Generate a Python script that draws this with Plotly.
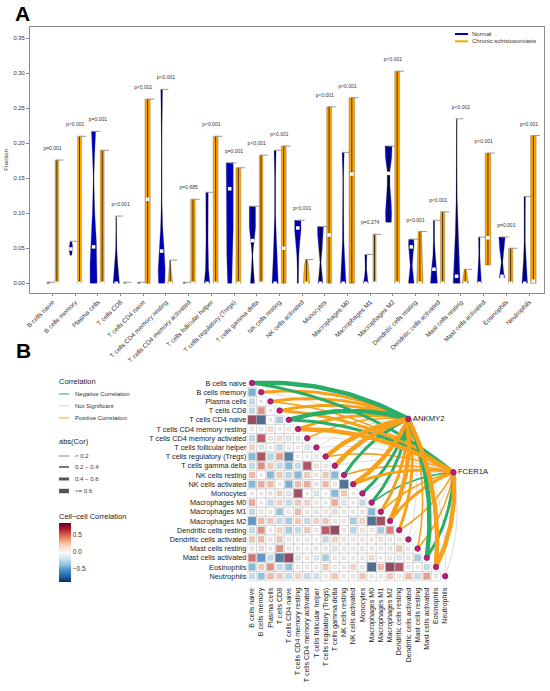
import numpy as np
import plotly.graph_objects as go

W, H = 550, 691
FONT = "Liberation Sans, Arial, sans-serif"


def px(x):
    return x / W


def py(y):
    return 1 - y / H


cells = ["B cells naive", "B cells memory", "Plasma cells", "T cells CD8", "T cells CD4 naive",
         "T cells CD4 memory resting", "T cells CD4 memory activated", "T cells follicular helper",
         "T cells regulatory (Tregs)", "T cells gamma delta", "NK cells resting", "NK cells activated",
         "Monocytes", "Macrophages M0", "Macrophages M1", "Macrophages M2", "Dendritic cells resting",
         "Dendritic cells activated", "Mast cells resting", "Mast cells activated", "Eosinophils",
         "Neutrophils"]

p_text = ["p=0.001", "p<0.001", "p=0.001", "p<0.001", "p<0.001", "p<0.001", "p=0.685", "p<0.001",
          "p=0.001", "p<0.001", "p<0.001", "p<0.001", "p<0.001", "p<0.001", "p=0.274", "p<0.001",
          "p<0.001", "p<0.001", "p<0.001", "p<0.001", "p=0.001", "p<0.001"]

# violin outlines: levels (fraction) and relative half widths
normal_y = [
    [0, 0.0015],
    [0.04, 0.045, 0.05, 0.055, 0.06],
    [0, 0.03, 0.06, 0.1, 0.15, 0.19, 0.217],
    [0, 0.01, 0.03, 0.05, 0.08, 0.096],
    [0, 0.0015],
    [0, 0.02, 0.05, 0.08, 0.12, 0.2, 0.277],
    [0, 0.0015],
    [0, 0.02, 0.06, 0.1, 0.13],
    [0, 0.04, 0.08, 0.12, 0.15, 0.172],
    [0, 0.02, 0.04, 0.06, 0.08, 0.11],
    [0, 0.03, 0.06, 0.1, 0.15, 0.19],
    [0, 0.02, 0.04, 0.06, 0.075, 0.09],
    [0, 0.015, 0.03, 0.05, 0.07, 0.081],
    [0, 0.03, 0.06, 0.1, 0.15, 0.187],
    [0, 0.01, 0.02, 0.03, 0.041],
    [0.087, 0.1, 0.12, 0.14, 0.16, 0.18, 0.196],
    [0, 0.01, 0.025, 0.04, 0.055, 0.063],
    [0, 0.02, 0.04, 0.06, 0.09],
    [0, 0.03, 0.07, 0.12, 0.18, 0.235],
    [0, 0.02, 0.04, 0.066],
    [0.008, 0.015, 0.03, 0.05, 0.066],
    [0, 0.03, 0.06, 0.1, 0.124],
]
normal_w = [
    [0.35, 0.35],
    [0.2, 0.45, 0.55, 0.45, 0.2],
    [1.0, 1.0, 0.8, 0.35, 0.06, 0.35, 0.6],
    [0.9, 0.8, 0.4, 0.15, 0.06, 0.03],
    [0.35, 0.35],
    [0.9, 1.0, 0.7, 0.3, 0.06, 0.04, 0.25],
    [0.35, 0.35],
    [0.8, 0.45, 0.3, 0.3, 0.35],
    [0.6, 0.85, 1.0, 1.0, 1.0, 1.0],
    [0.6, 0.3, 0.08, 0.5, 0.9, 0.9],
    [0.9, 0.6, 0.3, 0.1, 0.1, 0.3],
    [0.15, 0.15, 0.3, 0.6, 0.9, 0.9],
    [0.7, 0.4, 0.15, 0.5, 0.85, 0.85],
    [0.8, 0.5, 0.2, 0.1, 0.06, 0.3],
    [0.7, 0.4, 0.2, 0.2, 0.3],
    [0.8, 0.9, 0.7, 0.4, 0.4, 0.9, 1.0],
    [0.8, 0.6, 0.3, 0.5, 0.8, 0.7],
    [1.0, 0.7, 0.3, 0.15, 0.15],
    [1.0, 0.8, 0.4, 0.15, 0.06, 0.06],
    [0.6, 0.3, 0.15, 0.2],
    [0.8, 0.5, 0.2, 0.7, 0.9],
    [0.8, 0.4, 0.15, 0.15, 0.2],
]
normal_med = [None, 0.049, 0.052, 0.0, None, 0.046, None, 0.0, 0.135, 0.061, 0.0, 0.079,
              0.0, 0.0, 0.0, 0.157, 0.052, 0.02, 0.01, 0.0, 0.01, 0.0]

chronic_y = [
    [0, 0.176], [0, 0.21], [0, 0.19], [0, 0.0015], [0, 0.263],
    [0, 0.01, 0.02, 0.033], [0, 0.12], [0, 0.21], [0, 0.165], [0, 0.183],
    [0, 0.196], [0, 0.015, 0.025, 0.034], [0, 0.252], [0, 0.265], [0, 0.07],
    [0, 0.303], [0, 0.03, 0.06, 0.074], [0, 0.102], [0, 0.01, 0.02],
    [0.026, 0.186], [0, 0.05], [0, 0.211],
]
chronic_w = [
    [0.5, 0.5], [0.55, 0.55], [0.55, 0.55], [0.35, 0.35], [0.75, 0.75],
    [0.7, 0.5, 0.35, 0.1], [0.65, 0.65], [0.7, 0.7], [0.7, 0.7], [0.5, 0.5],
    [0.7, 0.7], [0.9, 0.8, 0.6, 0.3], [0.7, 0.7], [0.8, 0.8], [0.45, 0.45],
    [0.7, 0.7], [0.9, 0.8, 0.6, 0.5], [0.6, 0.6], [0.9, 0.7, 0.3],
    [0.8, 0.8], [0.6, 0.6], [0.8, 0.8],
]
chronic_med = [0.0, 0.0, 0.0, None, 0.12, 0.0, 0.0, 0.0, 0.0, 0.0, 0.05, 0.0, 0.069, 0.156,
               0.0, 0.0, 0.0, 0.0, 0.0, 0.065, 0.0, 0.003]

# lower triangle of the cell-cell correlation matrix (row i has i values)
corr_rows = [
    [],
    [-0.55],
    [-0.3, 0.05],
    [-0.3, 0.5, 0.05],
    [0.85, -0.9, 0.05, -0.4],
    [0.1, -0.1, 0.2, 0.05, 0.1],
    [-0.3, 0.7, 0.15, 0.2, -0.2, -0.15],
    [0.25, -0.2, 0.05, -0.3, -0.1, 0.05, -0.2],
    [-0.5, 0.75, -0.35, 0.45, -0.8, -0.05, 0.05, -0.1],
    [-0.3, 0.5, 0.3, -0.3, -0.5, -0.3, 0.75, 0.15, -0.1],
    [0.35, 0.05, -0.5, 0.3, -0.35, -0.5, 0.3, 0.1, 0.3, -0.5],
    [-0.5, 0.4, 0.35, 0.05, -0.55, 0.35, 0.4, 0.1, 0.35, -0.1, -0.85],
    [0.05, 0.05, 0.1, 0.25, -0.2, 0.8, 0.05, -0.2, -0.02, -0.5, 0.3, 0.05],
    [0.4, 0.05, -0.3, 0.25, -0.3, 0.3, 0.25, 0.1, 0.05, 0.4, -0.2, 0.05, -0.3],
    [-0.3, 0.1, 0.08, -0.45, 0.1, 0.35, 0.1, -0.15, 0.1, 0.2, 0.1, 0.08, 0.1, -0.5],
    [-0.7, 0.35, 0.3, -0.3, -0.4, 0.3, -0.3, 0.25, 0.3, 0.1, 0.1, -0.4, 0.25, -0.85, 0.8],
    [-0.3, 0.5, 0.05, 0.25, -0.4, -0.3, 0.3, 0.1, 0.7, 0.85, 0.1, -0.35, 0.15, 0.1, -0.4, 0.55],
    [0.3, 0.35, 0.1, 0.3, 0.1, 0.1, 0.08, 0.05, -0.3, 0.25, 0.1, 0.1, 0.1, 0.08, 0.15, 0.1, 0.1],
    [0.1, 0.2, 0.08, 0.5, 0.1, 0.1, 0.05, 0.1, 0.1, -0.2, 0.1, 0.1, 0.12, 0.1, 0.08, 0.1, 0.3, 0.1],
    [0.6, -0.7, -0.3, -0.8, 0.9, -0.2, 0.1, -0.2, -0.4, 0.1, 0.1, 0.08, 0.1, 0.2, 0.05, 0.1,
     -0.2, 0.1, -0.4],
    [-0.5, 0.3, 0.5, -0.3, -0.45, 0.1, 0.1, 0.08, 0.3, 0.1, 0.1, 0.25, 0.1, -0.9, 0.35, 0.85,
     0.75, 0.1, 0.05, -0.3],
    [-0.3, -0.45, 0.35, 0.3, -0.3, 0.25, -0.3, -0.25, 0.1, 0.3, 0.1, 0.1, 0.3, 0.1, 0.1, 0.3,
     0.1, 0.35, -0.3, 0.45, 0.1],
]

genes = ["ANKMY2", "FCER1A"]
gene_x = [17.0, 21.9]
gene_y = [3.9, 9.7]
edge_type = {
    "ANKMY2": ["neg", "pos", "pos", "pos", "neg", "pos", "pos", "ns", "pos", "pos", "neg",
               "pos", "neg", "neg", "pos", "pos", "pos", "ns", "pos", "neg", "pos", "ns"],
    "FCER1A": ["neg", "ns", "pos", "pos", "neg", "pos", "ns", "ns", "pos", "ns", "pos",
               "pos", "ns", "neg", "pos", "pos", "pos", "ns", "pos", "neg", "pos", "ns"],
}
edge_bin = {
    "ANKMY2": [3, 2, 2, 2, 3, 2, 1, 0, 3, 3, 2, 3, 2, 2, 2, 3, 2, 0, 1, 3, 3, 0],
    "FCER1A": [2, 0, 1, 2, 2, 3, 0, 0, 1, 0, 1, 2, 0, 1, 1, 2, 1, 0, 1, 2, 3, 0],
}

BLUE = "#0000c4"
ORANGE = "#ffa500"
edge_color = {"neg": "#29ad68", "ns": "#cfcfcf", "pos": "#f7a11a"}
bin_width = [0.7, 1.6, 3.0, 4.5]
rdbu = ["#053061", "#2166ac", "#4393c3", "#92c5de", "#d1e5f0", "#f7f7f7",
        "#fddbc7", "#f4a582", "#d6604d", "#b2182b", "#67001f"]
colorscale = [[k / 10, c] for k, c in enumerate(rdbu)]

fig = go.Figure()

# ---------------- panel A: violins ----------------
HW = 0.155
OFF = 0.19


def violin_path(xc, ys, ws):
    xs = [xc + w * HW for w in ws] + [xc - w * HW for w in reversed(ws)]
    yy = list(ys) + list(reversed(ys))
    return xs + [xs[0], None], yy + [yy[0], None]


for group, ys_all, ws_all, color, sign in [("Normal", normal_y, normal_w, BLUE, -1),
                                             ("Chronic schistosomiasis", chronic_y, chronic_w, ORANGE, 1)]:
    vx, vy, lx, ly, cx, cy = [], [], [], [], [], []
    for i in range(len(cells)):
        xc = i + sign * OFF
        a, b = violin_path(xc, ys_all[i], ws_all[i])
        vx += a
        vy += b
        lx += [xc, xc, None]
        ly += [ys_all[i][0], ys_all[i][-1], None]
        cx += [xc - 0.05, xc + 0.3, None]
        cy += [ys_all[i][-1], ys_all[i][-1], None]
    fig.add_trace(go.Scatter(x=vx, y=vy, mode="lines", fill="toself", fillcolor=color,
                             line=dict(color="rgba(70,70,70,0.55)", width=0.5),
                             xaxis="x", yaxis="y", hoverinfo="skip", name=group))
    fig.add_trace(go.Scatter(x=lx, y=ly, mode="lines", line=dict(color="rgba(0,0,0,0.7)", width=1),
                             xaxis="x", yaxis="y", hoverinfo="skip"))
    fig.add_trace(go.Scatter(x=cx, y=cy, mode="lines", line=dict(color="#9a9a9a", width=1),
                             xaxis="x", yaxis="y", hoverinfo="skip"))

mx, my = [], []
for i in range(len(cells)):
    if normal_med[i] is not None:
        mx.append(i - OFF)
        my.append(normal_med[i])
    if chronic_med[i] is not None:
        mx.append(i + OFF)
        my.append(chronic_med[i])
fig.add_trace(go.Scatter(x=mx, y=my, mode="markers", xaxis="x", yaxis="y",
                         marker=dict(symbol="square", size=3.5, color="white", line=dict(width=0)),
                         hoverinfo="skip"))

tops = [max(normal_y[i][-1], chronic_y[i][-1]) for i in range(len(cells))]
fig.add_trace(go.Scatter(x=list(range(len(cells))), y=[t + 0.016 for t in tops], mode="text",
                         text=p_text, textfont=dict(size=5, color="#333", family=FONT),
                         xaxis="x", yaxis="y", hoverinfo="skip", cliponaxis=False))

# ---------------- panel B: correlation heatmap ----------------
gx, gy, gv = [], [], []
for i, row in enumerate(corr_rows):
    for j, v in enumerate(row):
        gx.append(j)
        gy.append(i)
        gv.append(v)

fig.add_trace(go.Scatter(x=gx, y=gy, mode="markers", xaxis="x2", yaxis="y2", hoverinfo="skip",
                         marker=dict(symbol="square-open", size=9.2, color="#cfcfcf",
                                     line=dict(width=0.6, color="#cfcfcf"))))
fig.add_trace(go.Scatter(
    x=gx, y=gy, mode="markers", xaxis="x2", yaxis="y2", hoverinfo="skip",
    marker=dict(symbol="square", size=[8.6 * np.sqrt(abs(v)) + 0.6 for v in gv], color=gv,
                colorscale=colorscale, cmin=-0.88, cmax=0.85,
                line=dict(width=0.5, color="rgba(110,110,110,0.55)"),
                colorbar=dict(x=px(58.7), xanchor="left", y=py(552.5), yanchor="middle",
                              len=59 / H, lenmode="fraction", thickness=11.6, outlinewidth=0,
                              xpad=0, ypad=0, tickvals=[-0.5, 0, 0.5],
                              ticktext=["\u22120.5", "0.0", "0.5"], ticks="",
                              tickfont=dict(size=6.5, color="#333", family=FONT)))))

# network edges
edges = []
for g, gene in enumerate(genes):
    for i in range(len(cells)):
        edges.append((edge_type[gene][i], edge_bin[gene][i], i, gene_x[g], gene_y[g]))
order = {"ns": 0, "pos": 1, "neg": 1}
edges.sort(key=lambda e: (order[e[0]], e[1]))
t = np.linspace(0, 1, 30)
for kind, b, i, ex, ey in edges:
    p0 = np.array([i, i], dtype=float)
    p2 = np.array([ex, ey])
    d = p2 - p0
    L = np.hypot(*d)
    n = np.array([d[1], -d[0]]) / L
    if n[0] - n[1] < 0:
        n = -n
    c = (p0 + p2) / 2 + 0.14 * L * n
    bx = (1 - t) ** 2 * p0[0] + 2 * (1 - t) * t * c[0] + t ** 2 * p2[0]
    by = (1 - t) ** 2 * p0[1] + 2 * (1 - t) * t * c[1] + t ** 2 * p2[1]
    fig.add_trace(go.Scatter(x=bx, y=by, mode="lines", xaxis="x2", yaxis="y2", hoverinfo="skip",
                             line=dict(color=edge_color[kind], width=bin_width[b])))

node_style = dict(symbol="circle", size=5.5, color="#d6145c", line=dict(width=0.8, color="#5a2d91"))
fig.add_trace(go.Scatter(x=list(range(len(cells))), y=list(range(len(cells))), mode="markers",
                         xaxis="x2", yaxis="y2", marker=node_style, hoverinfo="skip"))
fig.add_trace(go.Scatter(x=gene_x, y=gene_y, mode="markers+text", text=genes, textposition="middle right",
                         textfont=dict(size=7.7, color="#222", family=FONT),
                         xaxis="x2", yaxis="y2", marker=node_style, hoverinfo="skip", cliponaxis=False))

# ---------------- layout ----------------
shapes = []
annotations = []


def leg_line(x0, x1, y, color, width):
    shapes.append(dict(type="line", xref="paper", yref="paper", x0=px(x0), x1=px(x1),
                       y0=py(y), y1=py(y), line=dict(color=color, width=width)))


def leg_text(x, y, text, size=6, color="#333"):
    annotations.append(dict(x=px(x), y=py(y), xref="paper", yref="paper", text=text, showarrow=False,
                            xanchor="left", yanchor="middle", font=dict(size=size, color=color, family=FONT)))


# legend of panel A
leg_line(455, 468, 34, BLUE, 2)
leg_line(455, 468, 41.3, ORANGE, 2)
leg_text(470, 34, "Normal")
leg_text(470, 41.3, "Chronic schistosomiasis")

# legends of panel B
leg_text(57, 381, "Correlation", size=7.5, color="#222")
for y, kind, label in [(394, "neg", "Negative Correlation"), (406, "ns", "Not Significant"),
                       (418, "pos", "Positive Correlation")]:
    leg_line(59, 69, y, edge_color[kind], 1)
    leg_text(73, y, label)
leg_text(57, 442, "abs(Cor)", size=7.5, color="#222")
for y, b, label in [(456, 0, "< 0.2"), (467, 1, "0.2 \u2212 0.4"), (479, 2, "0.4 \u2212 0.6"),
                    (491, 3, ">= 0.6")]:
    leg_line(59, 69, y, "#555", bin_width[b])
    leg_text(73, y, label)
leg_text(57, 516, "Cell\u2212cell Correlation", size=7.5, color="#222")

for letter, x, y in [("A", 22.5, 14), ("B", 23, 350)]:
    annotations.append(dict(x=px(x), y=py(y), xref="paper", yref="paper", text="<b>%s</b>" % letter,
                            showarrow=False, xanchor="center", yanchor="middle",
                            font=dict(size=21, color="black", family=FONT)))

fig.update_layout(
    width=W, height=H, margin=dict(l=0, r=0, t=0, b=0, autoexpand=False), showlegend=False,
    paper_bgcolor="white", plot_bgcolor="white", font=dict(family=FONT, color="#333"),
    shapes=shapes, annotations=annotations,
    xaxis=dict(domain=[px(30), px(544)], range=[-0.992, 21.66], anchor="y",
               tickvals=list(range(len(cells))), ticktext=cells, tickangle=-45,
               tickfont=dict(size=6.4, color="#333"), ticks="outside", ticklen=2, tickcolor="#888",
               showline=True, mirror=True, linecolor="#8c8c8c", linewidth=1,
               showgrid=False, zeroline=False),
    yaxis=dict(domain=[py(293), py(27)], range=[-0.0139, 0.3661], anchor="x",
               tickvals=[0, 0.05, 0.1, 0.15, 0.2, 0.25, 0.3, 0.35], tickformat=".2f",
               tickfont=dict(size=5.8, color="#333"), ticks="outside", ticklen=3, tickcolor="#888",
               title=dict(text="Fraction", font=dict(size=6, color="#333"), standoff=4),
               showline=True, mirror=True, linecolor="#8c8c8c", linewidth=1,
               showgrid=False, zeroline=False),
    xaxis2=dict(domain=[px(247.4), px(495.8)], range=[-0.5, 26.5], anchor="y2",
                tickvals=list(range(len(cells))), ticktext=cells, tickangle=-90,
                tickfont=dict(size=7.1, color="#222"), ticks="", showline=False,
                showgrid=False, zeroline=False),
    yaxis2=dict(domain=[py(585.4), py(360)], range=[22, -2.5], anchor="x2",
                tickvals=list(range(len(cells))), ticktext=cells,
                tickfont=dict(size=7.3, color="#222"), ticks="", showline=False,
                showgrid=False, zeroline=False),
)

# the page body has a default 8px margin; drop it so the figure sits at the window corner
fig.write_html("out.html", config={"displayModeBar": False},
               post_script="document.body.style.margin='0px';")
